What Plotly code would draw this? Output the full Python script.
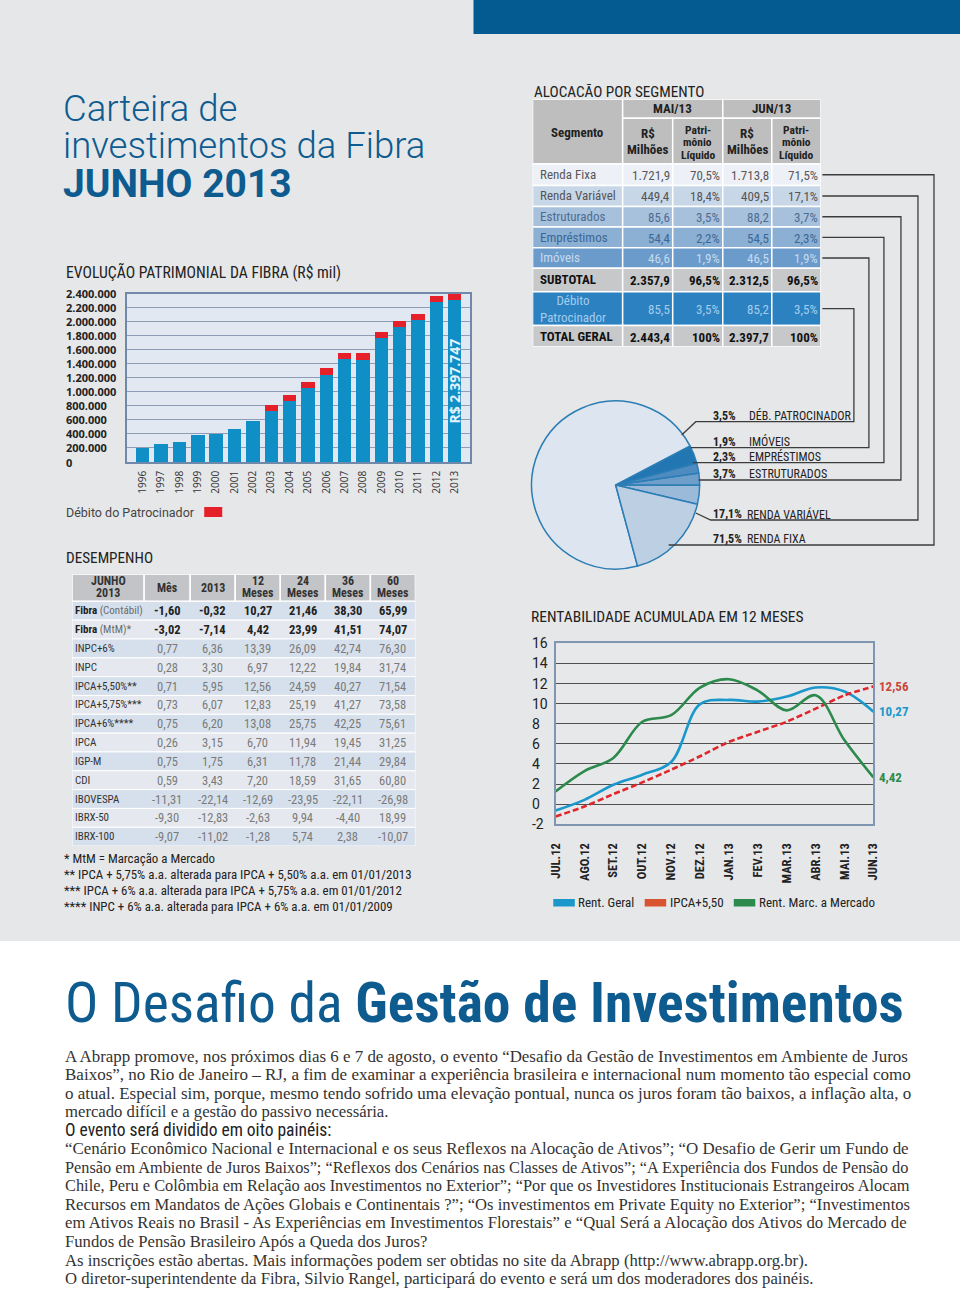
import unicodedata
import plotly.graph_objects as go

W, H = 960, 1289
# the photographed page maps figure x to 8 + 0.98333 * x; positions below are given in
# reference-page pixels and converted through this mapping
PX_OFF, PX_SCALE = 8.0, 0.98333


def X(p):
    return ((p - PX_OFF) / PX_SCALE) / W


def Y(p):
    return 1 - p / H


NARROW = "Liberation Sans Narrow, Arial Narrow, Roboto Condensed, DejaVu Sans Condensed, Roboto, sans-serif"
SANS = "Roboto, Open Sans, sans-serif"
OPEN = "Open Sans, Roboto, sans-serif"
SERIF = "Liberation Serif, Times New Roman, DejaVu Serif, serif"

# ======================= DATA =======================
# Evolução patrimonial (R$ mil)
anos = ["1996", "1997", "1998", "1999", "2000", "2001", "2002", "2003", "2004",
        "2005", "2006", "2007", "2008", "2009", "2010", "2011", "2012", "2013"]
patrimonio = [205000, 250000, 280000, 380000, 405000, 465000, 585000, 730000, 870000,
              1050000, 1245000, 1465000, 1460000, 1765000, 1920000, 2020000, 2280000, 2312500]
debito_patrocinador = [0, 0, 0, 0, 0, 0, 0, 78000, 86000,
                       88000, 88000, 90000, 88000, 90000, 88000, 90000, 90000, 85200]
patr_yticks = [0, 200000, 400000, 600000, 800000, 1000000, 1200000, 1400000,
               1600000, 1800000, 2000000, 2200000, 2400000]
patr_ytick_labels = ["0", "200.000", "400.000", "600.000", "800.000", "1.000.000",
                     "1.200.000", "1.400.000", "1.600.000", "1.800.000", "2.000.000",
                     "2.200.000", "2.400.000"]
total_2013_label = "R$ 2.397.747"

# Alocação por segmento
segmentos = ["Renda Fixa", "Renda Variável", "Estruturados", "Empréstimos", "Imóveis",
             "SUBTOTAL", "Débito<br>Patrocinador", "TOTAL GERAL"]
mai_rs = ["1.721,9", "449,4", "85,6", "54,4", "46,6", "2.357,9", "85,5", "2.443,4"]
mai_pl = ["70,5%", "18,4%", "3,5%", "2,2%", "1,9%", "96,5%", "3,5%", "100%"]
jun_rs = ["1.713,8", "409,5", "88,2", "54,5", "46,5", "2.312,5", "85,2", "2.397,7"]
jun_pl = ["71,5%", "17,1%", "3,7%", "2,3%", "1,9%", "96,5%", "3,5%", "100%"]

# Pizza (jun/13, % do patrimônio)
pie_names = ["ESTRUTURADOS", "EMPRÉSTIMOS", "IMÓVEIS", "DÉB. PATROCINADOR", "RENDA FIXA", "RENDA VARIÁVEL"]
pie_values = [3.7, 2.3, 1.9, 3.5, 71.5, 17.1]
pie_pct = ["3,7%", "2,3%", "1,9%", "3,5%", "71,5%", "17,1%"]

# Rentabilidade acumulada em 12 meses
meses = ["JUL.12", "AGO.12", "SET.12", "OUT.12", "NOV.12", "DEZ.12",
         "JAN.13", "FEV.13", "MAR.13", "ABR.13", "MAI.13", "JUN.13"]
rent_geral = [-0.63, 0.43, 1.93, 2.93, 4.2, 9.95, 10.37, 10.2, 10.7, 11.6, 11.2, 9.2]
ipca_550 = [-1.23, -0.23, 1.0, 2.17, 3.43, 4.77, 6.2, 7.2, 8.2, 9.5, 10.83, 11.7]
rent_mtm = [1.27, 3.3, 4.6, 8.2, 8.85, 11.6, 12.43, 11.3, 9.33, 10.83, 6.35, 2.67]
rent_end_labels = ["10,27", "12,56", "4,42"]
rent_yticks = [-2, 0, 2, 4, 6, 8, 10, 12, 14, 16]
rent_ytick_labels = ["-2", "0", "2", "4", "6", "8", "10", "12", "14", "16"]
rent_legend = ["Rent. Geral", "IPCA+5,50", "Rent. Marc. a Mercado"]

# Desempenho
desemp_header = [["JUNHO", "2013"], ["Mês"], ["2013"], ["12", "Meses"], ["24", "Meses"],
                 ["36", "Meses"], ["60", "Meses"]]
desemp_nomes = ["<b>Fibra</b> <span style='color:#6a6a6a'>(Contábil)</span>",
                "<b>Fibra</b> <span style='color:#6a6a6a'>(MtM)*</span>",
                "INPC+6%", "INPC", "IPCA+5,50%**", "IPCA+5,75%***", "IPCA+6%****",
                "IPCA", "IGP-M", "CDI", "IBOVESPA", "IBRX-50", "IBRX-100"]
d_mes = ["-1,60", "-3,02", "0,77", "0,28", "0,71", "0,73", "0,75", "0,26", "0,75", "0,59", "-11,31", "-9,30", "-9,07"]
d_2013 = ["-0,32", "-7,14", "6,36", "3,30", "5,95", "6,07", "6,20", "3,15", "1,75", "3,43", "-22,14", "-12,83", "-11,02"]
d_12m = ["10,27", "4,42", "13,39", "6,97", "12,56", "12,83", "13,08", "6,70", "6,31", "7,20", "-12,69", "-2,63", "-1,28"]
d_24m = ["21,46", "23,99", "26,09", "12,22", "24,59", "25,19", "25,75", "11,94", "11,78", "18,59", "-23,95", "9,94", "5,74"]
d_36m = ["38,30", "41,51", "42,74", "19,84", "40,27", "41,27", "42,25", "19,45", "21,44", "31,65", "-22,11", "-4,40", "2,38"]
d_60m = ["65,99", "74,07", "76,30", "31,74", "71,54", "73,58", "75,61", "31,25", "29,84", "60,80", "-26,98", "18,99", "-10,07"]

notas = ["* MtM = Marcação a Mercado",
         "** IPCA + 5,75% a.a. alterada para IPCA + 5,50% a.a. em 01/01/2013",
         "*** IPCA + 6% a.a. alterada para IPCA + 5,75% a.a. em 01/01/2012",
         "**** INPC + 6% a.a. alterada para IPCA + 6% a.a. em 01/01/2009"]

# (line, kind): "j" = justified body line, "s" = last line of a paragraph, "h" = sans heading
texto = [
    ("A Abrapp promove, nos próximos dias 6 e 7 de agosto, o evento “Desafio da Gestão de Investimentos em Ambiente de Juros", "j"),
    ("Baixos”, no Rio de Janeiro – RJ, a fim de examinar a experiência brasileira e internacional num momento tão especial como", "j"),
    ("o atual. Especial sim, porque, mesmo tendo sofrido uma elevação pontual, nunca os juros foram tão baixos, a inflação alta, o", "j"),
    ("mercado difícil e a gestão do passivo necessária.", "s"),
    ("O evento será dividido em oito painéis:", "h"),
    ("“Cenário Econômico Nacional e Internacional e os seus Reflexos na Alocação de Ativos”; “O Desafio de Gerir um Fundo de", "j"),
    ("Pensão em Ambiente de Juros Baixos”; “Reflexos dos Cenários nas Classes de Ativos”; “A Experiência dos Fundos de Pensão do", "j"),
    ("Chile, Peru e Colômbia em Relação aos Investimentos no Exterior”; “Por que os Investidores Institucionais Estrangeiros Alocam", "j"),
    ("Recursos em Mandatos de Ações Globais e Continentais ?”; “Os investimentos em Private Equity no Exterior”; “Investimentos", "j"),
    ("em Ativos Reais no Brasil - As Experiências em Investimentos Florestais” e “Qual Será a Alocação dos Ativos do Mercado de", "j"),
    ("Fundos de Pensão Brasileiro Após a Queda dos Juros?", "s"),
    ("As inscrições estão abertas. Mais informações podem ser obtidas no site da Abrapp (http://www.abrapp.org.br).", "s"),
    ("O diretor-superintendente da Fibra, Silvio Rangel, participará do evento e será um dos moderadores dos painéis.", "s"),
]

# ======================= STYLE =======================
BG = "#e6e7e9"
TITLE_BLUE = "#0d5b8f"
BAR_BLUE = "#0f8fc6"
BAR_RED = "#e5202b"
FRAME = "#7089ab"
C_GERAL = "#1a98cb"
C_IPCA = "#e0262b"
C_MTM = "#2b8a4c"

# approximate Times-style advance widths (per 1000 em) used to fit justified lines
_TW = {" ": 250, ",": 250, ".": 250, ";": 278, ":": 278, "“": 444, "”": 444, "(": 333, ")": 333,
       "-": 333, "–": 500, "?": 444, "/": 278}
for ch, w in zip("abcdefghijklmnopqrstuvwxyz",
                 [444, 500, 444, 500, 444, 333, 500, 500, 278, 278, 500, 278, 778, 500, 500, 500,
                  500, 333, 389, 278, 500, 500, 722, 500, 500, 444]):
    _TW[ch] = w
for ch, w in zip("ABCDEFGHIJKLMNOPQRSTUVWXYZ",
                 [722, 667, 667, 722, 611, 556, 722, 722, 333, 389, 722, 611, 889, 722, 722, 556,
                  722, 667, 556, 611, 722, 722, 944, 722, 722, 611]):
    _TW[ch] = w


def em_width(s):
    tot = 0
    for ch in s:
        base = unicodedata.normalize("NFD", ch)[0]
        tot += _TW.get(ch, _TW.get(base, 500))
    return tot / 1000.0


BODY_SIZE = 16.9
# calibration: the first line measured 842 px wide at 16.9 px in the photographed page
_K = 842.0 / (BODY_SIZE * em_width(texto[0][0]))

fig = go.Figure()
shapes = []
annotations = []


def txt(x, y, s, size, color, family, xanchor="left", yanchor="middle",
        xref="paper", yref="paper", weight=None, angle=0, conv=True):
    if conv and xref == "paper":
        x = X(x)
    if conv and yref == "paper":
        y = Y(y)
    f = dict(size=size, color=color, family=family)
    if weight is not None:
        f["weight"] = weight
    annotations.append(dict(x=x, y=y, xref=xref, yref=yref, text=s, showarrow=False,
                            xanchor=xanchor, yanchor=yanchor, font=f, textangle=angle,
                            borderpad=0))


# ---- page decoration ----
shapes.append(dict(type="rect", xref="paper", yref="paper", x0=-0.05, x1=1.05, y0=0, y1=Y(941),
                   fillcolor="white", line=dict(width=0), layer="below"))
shapes.append(dict(type="rect", xref="paper", yref="paper", x0=X(473), x1=1.05, y0=Y(34), y1=1,
                   fillcolor="#045b92", line=dict(width=0), layer="below"))

txt(62, 108, "Carteira de", 36.5, TITLE_BLUE, SANS, weight=300)
txt(62, 146, "investimentos da Fibra", 36.5, TITLE_BLUE, SANS, weight=300)
txt(62, 184, "JUNHO 2013", 39, TITLE_BLUE, SANS, weight=700)

# ======================= BAR CHART =======================
fig.add_trace(go.Bar(x=anos, y=patrimonio, marker=dict(color=BAR_BLUE, line=dict(width=0)),
                     xaxis="x", yaxis="y", hoverinfo="skip", showlegend=False))
fig.add_trace(go.Bar(x=anos, y=debito_patrocinador, marker=dict(color=BAR_RED, line=dict(width=0)),
                     xaxis="x", yaxis="y", hoverinfo="skip", showlegend=False))
shapes.append(dict(type="rect", xref="x domain", yref="y domain", x0=0, x1=1, y0=0, y1=1,
                   fillcolor="#e2e8f1", line=dict(width=0), layer="below"))
txt(65, 272, "EVOLUÇÃO PATRIMONIAL DA FIBRA (R$ mil)", 15.7, "#222", NARROW)
for v, lab in zip(patr_yticks, patr_ytick_labels):
    txt(X(65), v, lab, 11, "#222", OPEN, xref="paper", yref="y", weight=700, conv=False)
# category index of the last year (2013)
txt(len(anos) - 1, patrimonio[-1] / 2, "<b>" + total_2013_label + "</b>", 14, "#e4f3fb", OPEN,
    xanchor="center", xref="x", yref="y", angle=-90, conv=False)
txt(65, 512, "Débito do Patrocinador", 12.5, "#444", SANS)
shapes.append(dict(type="rect", xref="paper", yref="paper", x0=X(204), x1=X(222), y0=Y(517), y1=Y(507),
                   fillcolor=BAR_RED, line=dict(width=0)))

# ======================= LINE CHART =======================
fig.add_trace(go.Scatter(x=meses, y=rent_geral, mode="lines", xaxis="x2", yaxis="y2",
                         line=dict(color=C_GERAL, width=2.6, shape="spline", smoothing=1.0),
                         hoverinfo="skip", showlegend=False))
fig.add_trace(go.Scatter(x=meses, y=ipca_550, mode="lines", xaxis="x2", yaxis="y2",
                         line=dict(color=C_IPCA, width=2.6, dash="6px,3px", shape="spline", smoothing=0.6),
                         hoverinfo="skip", showlegend=False))
fig.add_trace(go.Scatter(x=meses, y=rent_mtm, mode="lines", xaxis="x2", yaxis="y2",
                         line=dict(color=C_MTM, width=2.6, shape="spline", smoothing=1.0),
                         hoverinfo="skip", showlegend=False))
shapes.append(dict(type="rect", xref="x2 domain", yref="y2 domain", x0=0, x1=1, y0=0, y1=1,
                   fillcolor="#e7e8ea", line=dict(width=0), layer="below"))
txt(529, 617, "RENTABILIDADE ACUMULADA EM 12 MESES", 15.5, "#222", NARROW)
for v, lab in zip(rent_yticks, rent_ytick_labels):
    txt(X(530), v, lab, 14, "#222", SANS, xref="paper", yref="y2", conv=False)
for series, lab, col in [(rent_geral, rent_end_labels[0], C_GERAL),
                         (ipca_550, rent_end_labels[1], "#c9473d"),
                         (rent_mtm, rent_end_labels[2], C_MTM)]:
    txt(X(877), series[-1], "<b>" + lab + "</b>", 13, col, NARROW, xref="paper", yref="y2", conv=False)
leg_x = [552.7, 644, 733]
leg_col = [C_GERAL, "#d8532f", C_MTM]
for lx, lc, lt in zip(leg_x, leg_col, rent_legend):
    shapes.append(dict(type="rect", xref="paper", yref="paper", x0=X(lx), x1=X(lx + 21.5),
                       y0=Y(906.5), y1=Y(899), fillcolor=lc, line=dict(width=0)))
    txt(lx + 24, 902, lt, 13, "#222", NARROW)

# ======================= ALOCAÇÃO TABLE =======================
txt(532, 92, "ALOCACÃO POR SEGMENTO", 15.2, "#222", NARROW)
ac = [532, 622, 672, 722, 771, 820]          # column edges
ah = [99.3, 118.3, 164]                      # header row edges
ar = [164, 185.5, 206.5, 227, 247.7, 268.3, 291.7, 325.5, 346.7]  # body row edges
HDR = "#bebebf"
row_fill = ["#edf0f6", "#c8d7e8", "#a7c0dc", "#8cafd4", "#6b9bcb", "#c7c8ca", "#2c81c0", "#c7c8ca"]
row_txt = ["#585858", "#555555", "#4d6d90", "#3b6894", "#c6daef", "#111111", "#a3cdee", "#111111"]
row_bold = [False, False, False, False, False, True, False, True]
WL = dict(color="white", width=1.5)


def cell(xr, yr, x0, x1, y0, y1, fill):
    shapes.append(dict(type="rect", xref=xr, yref=yr, x0=x0, x1=x1, y0=y0, y1=y1,
                       fillcolor=fill, line=WL, layer="below"))


cell("x3", "y3", ac[0], ac[1], ah[0], ah[2], HDR)
cell("x3", "y3", ac[1], ac[3], ah[0], ah[1], HDR)
cell("x3", "y3", ac[3], ac[5], ah[0], ah[1], HDR)
for c in range(1, 5):
    cell("x3", "y3", ac[c], ac[c + 1], ah[1], ah[2], HDR)
txt((ac[0] + ac[1]) / 2, 133, "<b>Segmento</b>", 13, "#222", NARROW, xanchor="center",
    xref="x3", yref="y3", conv=False)
txt((ac[1] + ac[3]) / 2, 109, "<b>MAI/13</b>", 13, "#222", NARROW, xanchor="center",
    xref="x3", yref="y3", conv=False)
txt((ac[3] + ac[5]) / 2, 109, "<b>JUN/13</b>", 13, "#222", NARROW, xanchor="center",
    xref="x3", yref="y3", conv=False)
for c in (1, 3):
    cx = (ac[c] + ac[c + 1]) / 2
    txt(cx, 134, "<b>R$</b>", 13, "#222", NARROW, xanchor="center", xref="x3", yref="y3", conv=False)
    txt(cx, 150, "<b>Milhões</b>", 13, "#222", NARROW, xanchor="center", xref="x3", yref="y3", conv=False)
    cx2 = (ac[c + 1] + ac[c + 2]) / 2
    for yy, w in zip([130, 142.5, 155], ["Patri-", "mônio", "Líquido"]):
        txt(cx2, yy, "<b>" + w + "</b>", 11.5, "#222", NARROW, xanchor="center",
            xref="x3", yref="y3", conv=False)

cols_vals = [mai_rs, mai_pl, jun_rs, jun_pl]
for r in range(len(segmentos)):
    y0, y1 = ar[r], ar[r + 1]
    ym = (y0 + y1) / 2
    for c in range(5):
        cell("x3", "y3", ac[c], ac[c + 1], y0, y1, row_fill[r])
    b0, b1 = ("<b>", "</b>") if row_bold[r] else ("", "")
    txt(ac[0] + 6, ym, b0 + segmentos[r] + b1, 13, row_txt[r], NARROW, xref="x3", yref="y3", conv=False)
    for c in range(4):
        txt(ac[c + 2] - 2, ym + 1, b0 + cols_vals[c][r] + b1, 13, row_txt[r], NARROW,
            xanchor="right", xref="x3", yref="y3", conv=False)

# ======================= PIE =======================
pie_colors = ["#9bb9d8", "#6e9fcb", "#4e8bc0", "#2277b2", "#dde6f0", "#bccfe3"]
fig.add_trace(go.Pie(values=pie_values, labels=pie_names, sort=False, direction="counterclockwise",
                     rotation=90, textinfo="none", hoverinfo="skip", showlegend=False,
                     marker=dict(colors=pie_colors, line=dict(color="#2b7db5", width=1.5)),
                     domain=dict(x=[X(531), X(699)], y=[Y(569), Y(401)])))

# connectors: (segment index in pie arrays, table row, vertical x, label y, start x, diagonal end)
conn = [
    (4, 0, 933, 545, 668, None),
    (5, 1, 917, 520, 710, (695, 513)),
    (0, 2, 900, 480, 698, None),
    (1, 3, 883, 462.7, 692, None),
    (2, 4, 868, 447.7, 690, None),
    (3, 6, 853, 421.7, 695, (681, 435)),
]
for si, tr, vx, ly, sx, dg in conn:
    sy = (ar[tr] + ar[tr + 1]) / 2
    pts = [(821.5, sy), (vx, sy), (vx, ly), (sx, ly)]
    if dg:
        pts.append(dg)
    path = "M " + " L ".join(f"{X(a):.5f},{Y(b):.5f}" for a, b in pts)
    shapes.append(dict(type="path", xref="paper", yref="paper", path=path,
                       line=dict(color="#3c3c3c", width=1.3)))
    txt(711, ly - 6, "<b>" + pie_pct[si] + "</b>", 12, "#222", NARROW)
    nx = 747.5 if si in (0, 1, 2, 3) else 745
    txt(nx, ly - 6, pie_names[si], 12, "#222", NARROW)

# ======================= DESEMPENHO TABLE =======================
txt(65, 558, "DESEMPENHO", 15.2, "#222", NARROW)
dc = [72, 144, 190, 235, 280, 325, 370, 415]
dh0, dh1 = 574.3, 601.3
RH = 18.83
for c in range(7):
    cell("x4", "y4", dc[c], dc[c + 1], dh0, dh1, "#c3c4c7")
    lines = desemp_header[c]
    cx = (dc[c] + dc[c + 1]) / 2
    if len(lines) == 1:
        txt(cx, 588, "<b>" + lines[0] + "</b>", 12, "#333", NARROW, xanchor="center",
            xref="x4", yref="y4", conv=False)
    else:
        txt(cx, 581, "<b>" + lines[0] + "</b>", 12, "#333", NARROW, xanchor="center",
            xref="x4", yref="y4", conv=False)
        txt(cx, 592.5, "<b>" + lines[1] + "</b>", 12, "#333", NARROW, xanchor="center",
            xref="x4", yref="y4", conv=False)

d_cols = [d_mes, d_2013, d_12m, d_24m, d_36m, d_60m]
for r in range(len(desemp_nomes)):
    y0 = dh1 + r * RH
    y1 = y0 + RH
    ym = (y0 + y1) / 2
    fill = "#d6e0ec" if r % 2 == 0 else "#e5e9ef"
    shapes.append(dict(type="rect", xref="x4", yref="y4", x0=dc[0], x1=dc[-1], y0=y0, y1=y1,
                       fillcolor=fill, line=dict(color="white", width=1), layer="below"))
    bold = r < 2
    txt(dc[0] + 2, ym, desemp_nomes[r], 11, "#222" if bold else "#333", NARROW,
        xref="x4", yref="y4", conv=False)
    for c in range(6):
        v = d_cols[c][r]
        s = "<b>" + v + "</b>" if bold else v
        txt((dc[c + 1] + dc[c + 2]) / 2, ym, s, 12.5, "#222" if bold else "#7a7a7a", NARROW,
            xanchor="center", xref="x4", yref="y4", conv=False)

for i, n in enumerate(notas):
    txt(63, 859 + i * 15.7, n, 12.9, "#222", NARROW)

# ======================= BOTTOM ARTICLE =======================
txt(64, 1003, "O Desafio da <b>Gestão de Investimentos</b>", 55.5, TITLE_BLUE, NARROW)
TARGET_W = 843.0
for i, (line, kind) in enumerate(texto):
    yy = 1056 + i * 18.55
    if kind == "h":
        txt(64, yy, line, 17.5, "#222", NARROW)
    elif kind == "j":
        size = TARGET_W / (_K * em_width(line))
        txt(64, yy, line, round(size, 2), "#333", SERIF)
    else:
        txt(64, yy, line, 16.7, "#333", SERIF)

# dummy traces to anchor the table subplots
fig.add_trace(go.Scatter(x=[None], y=[None], xaxis="x3", yaxis="y3", showlegend=False, hoverinfo="skip"))
fig.add_trace(go.Scatter(x=[None], y=[None], xaxis="x4", yaxis="y4", showlegend=False, hoverinfo="skip"))

fig.update_layout(
    width=W, height=H, margin=dict(l=0, r=0, t=0, b=0), autosize=False,
    paper_bgcolor=BG, plot_bgcolor="rgba(0,0,0,0)",
    barmode="stack", bargap=0.27, showlegend=False, separators=",.",
    xaxis=dict(domain=[X(126.7), X(469.3)], anchor="y", type="category", range=[-0.87, 17.82],
               showline=True, mirror=True, linecolor=FRAME, linewidth=1.5, showgrid=False,
               ticks="", tickangle=-90, tickfont=dict(family=OPEN, size=10, color="#333"),
               ticklabelstandoff=3, fixedrange=True),
    yaxis=dict(domain=[Y(462), Y(293.5)], anchor="x", range=[0, 2400000], tickmode="array",
               tickvals=patr_yticks, showticklabels=False, showgrid=True, gridcolor="#8d9db5",
               gridwidth=1, showline=True, mirror=True, linecolor=FRAME, linewidth=1.5,
               zeroline=False, fixedrange=True),
    xaxis2=dict(domain=[X(555), X(872.5)], anchor="y2", type="category", range=[0, 11],
                showline=True, mirror=True, linecolor="#7f95b2", linewidth=1.8, showgrid=False,
                ticks="", tickangle=-90,
                tickfont=dict(family=NARROW, size=12.5, color="#222", weight="bold"),
                ticklabelstandoff=12, fixedrange=True),
    yaxis2=dict(domain=[Y(824.3), Y(643.3)], anchor="x2", range=[-2, 16], tickmode="array",
                tickvals=rent_yticks, showticklabels=False, showgrid=True, gridcolor="#505050",
                gridwidth=1.2, showline=True, mirror=True, linecolor="#7f95b2", linewidth=1.8,
                zeroline=False, fixedrange=True),
    xaxis3=dict(domain=[X(532), X(820)], range=[532, 820], anchor="y3", visible=False, fixedrange=True),
    yaxis3=dict(domain=[Y(346.7), Y(99.3)], range=[346.7, 99.3], anchor="x3", visible=False, fixedrange=True),
    xaxis4=dict(domain=[X(72), X(415)], range=[72, 415], anchor="y4", visible=False, fixedrange=True),
    yaxis4=dict(domain=[Y(846.1), Y(574.3)], range=[846.1, 574.3], anchor="x4", visible=False, fixedrange=True),
    shapes=shapes, annotations=annotations,
)

fig.write_html(
    "out.html",
    config={"displayModeBar": False, "responsive": False},
    post_script=("document.documentElement.style.margin='0px';"
                 "document.documentElement.style.overflow='hidden';"
                 "document.documentElement.style.background="
                 "'linear-gradient(#045b92,#045b92) right 0 top 0 / 24px 34px no-repeat,"
                 " linear-gradient(to bottom, #e6e7e9 0px, #e6e7e9 941px, #ffffff 941px, #ffffff 100%) no-repeat';"
                 "document.body.style.margin='0px';document.body.style.padding='0px';"
                 "document.body.style.overflow='hidden';"),
)
